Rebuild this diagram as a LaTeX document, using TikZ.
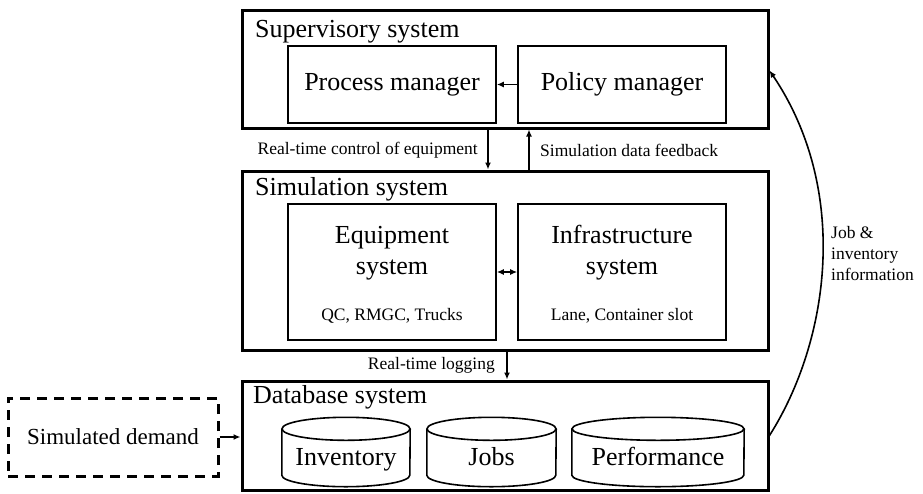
\documentclass[tikz,border=0pt]{standalone}
\usepackage{fontspec}
\setmainfont{Liberation Serif}
\usetikzlibrary{arrows.meta}

\newcommand{\bigsz}{\fontsize{26}{31}\selectfont}
\newcommand{\smallsz}{\fontsize{17.5}{21}\selectfont}

\begin{document}
\begin{tikzpicture}[x=1pt, y=-1pt,
    sysbox/.style={rectangle, draw, line width=3pt, minimum width=526},
    partbox/.style={rectangle, draw, line width=1.6pt, minimum width=208},
    dbcyl/.style={rectangle, minimum height=69, inner sep=0, text height=26pt, text depth=0pt, font=\bigsz},
    title/.style={anchor=base west, inner sep=0, font=\bigsz},
    note/.style={inner sep=0, font=\smallsz},
    arr/.style={line width=1.6pt, -{Latex[length=7pt,width=6pt]}}]
    \useasboundingbox (0,0) rectangle (923,493);

    % supervisory system
    \node[sysbox, minimum height=118] at (505,69) (sup) {};
    \node[title] at (255,37) (suptitle) {Supervisory system};
    \node[partbox, minimum height=77, font=\bigsz] at (392,84.5) (proc) {Process manager};
    \node[partbox, minimum height=77, font=\bigsz] at (622,84.5) (pol) {Policy manager};
    \draw[arr] (pol) -- (proc);

    % simulation system
    \node[sysbox, minimum height=179] at (505,260.5) (sim) {};
    \node[title] at (255,195) (simtitle) {Simulation system};
    \node[partbox, minimum height=136] at (392,272) (equip) {};
    \node[partbox, minimum height=136] at (622,272) (infra) {};
    \node[align=center, inner sep=0, font=\bigsz] at ([yshift=19pt]equip.center) (equiptxt) {Equipment\\system};
    \node[note] at ([yshift=-44pt]equip.center) (equipsub) {QC, RMGC, Trucks};
    \node[align=center, inner sep=0, font=\bigsz] at ([yshift=19pt]infra.center) (infratxt) {Infrastructure\\system};
    \node[note] at ([yshift=-44pt]infra.center) (infrasub) {Lane, Container slot};
    \draw[arr, {Latex[length=7pt,width=6pt]}-{Latex[length=7pt,width=6pt]}] (equip) -- (infra);

    % database system
    \node[sysbox, minimum height=109] at (505,435.5) (db) {};
    \node[title] at (253,403) (dbtitle) {Database system};
    \node[dbcyl, minimum width=128] at (346,452) (inv) {Inventory};
    \node[dbcyl, minimum width=129] at (491.5,452) (jobs) {Jobs};
    \node[dbcyl, minimum width=172] at (658,452) (perf) {Performance};
    % the cylinder outlines around the three stores
    \foreach \c/\r in {inv/64, jobs/64.5, perf/86} {
        \draw[line width=1.6pt] ([yshift=-11.5pt]\c.north) ellipse [x radius=\r pt, y radius=11.5pt];
        \draw[line width=1.6pt] ([yshift=-11.5pt]\c.north west) -- ([yshift=11.5pt]\c.south west)
            arc [start angle=180, end angle=360, x radius=\r pt, y radius=11.5pt]
            -- ([yshift=-11.5pt]\c.north east);
    }

    % outside demand
    \node[rectangle, draw, dashed, dash pattern=on 10pt off 7pt, line width=3pt,
          minimum width=210, minimum height=78, font=\fontsize{23}{27}\selectfont] at (113,437) (demand) {Simulated demand};
    \draw[arr] (demand.east) -- (demand.east -| db.west);

    % flows between the systems
    \coordinate (ctrl) at (488,0);
    \coordinate (fb) at (529,0);
    \coordinate (logx) at (507,0);
    \draw[arr] (sup.south -| ctrl) -- (sim.north -| ctrl);
    \draw[arr] (sim.north -| fb) -- (sup.south -| fb);
    \draw[arr] (sim.south -| logx) -- (db.north -| logx);
    \node[note, anchor=east] at (478,150) (ctrllbl) {Real-time control of equipment};
    \node[note, anchor=west] at (540,150) (fblbl) {Simulation data feedback};
    \node[note, anchor=east] at (495,365) (loglbl) {Real-time logging};

    % feedback of stored data to the supervisor
    \draw[arr] (db.east) .. controls (830,340) and (850,190) .. ([yshift=-62pt]sup.north east);
    \node[note, anchor=west, align=left] at (831,254) (infolbl) {Job \&\\inventory\\information};
\end{tikzpicture}
\end{document}
